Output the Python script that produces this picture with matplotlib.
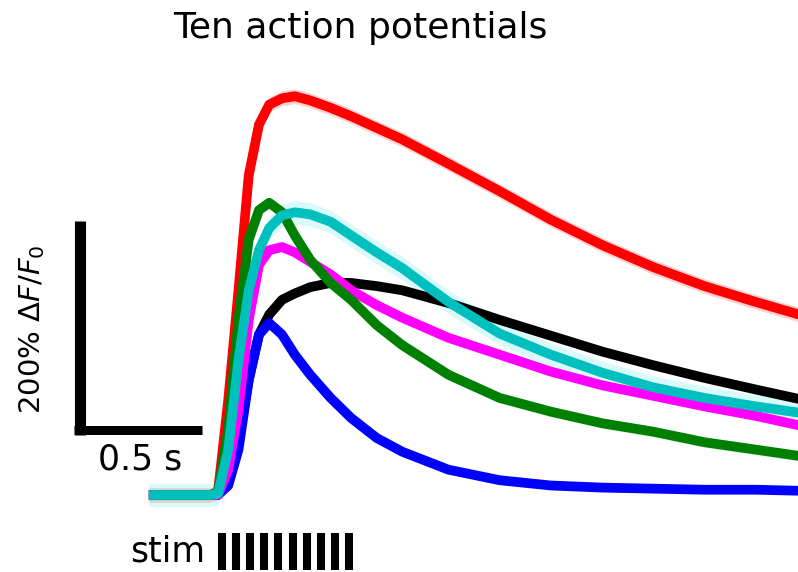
import matplotlib
matplotlib.use('Agg')
from matplotlib import pyplot as plt

# time (s) relative to stimulus onset, dF/F0 (%) for each indicator
t = [-0.27, -0.03, 0.0, 0.04, 0.08, 0.12, 0.16, 0.20, 0.25, 0.30, 0.36, 0.44,
     0.52, 0.62, 0.72, 0.90, 1.10, 1.30, 1.50, 1.70, 1.90, 2.10, 2.27]

red = [0, 0, 3, 90, 194, 303, 351, 370, 376, 378, 374, 367,
       359, 348, 337, 314, 288, 261, 237, 216, 198, 183, 171]
green = [0, 0, 2, 62, 166, 242, 270, 277, 268, 246, 223, 201,
         185, 161, 142, 114, 92, 79, 68, 60, 50, 43, 37]
cyan = [0, 0, 1, 43, 128, 194, 232, 253, 265, 268, 266, 259,
        246, 230, 215, 183, 153, 133, 116, 102, 92, 84, 78]
magenta = [0, 0, 0, 24, 81, 166, 218, 232, 235, 230, 221, 209,
           194, 180, 168, 149, 133, 117, 104, 94, 84, 75, 66]
black = [0, 0, 0, 14, 52, 109, 152, 171, 185, 191, 197, 201,
         201, 198, 194, 182, 166, 151, 136, 123, 111, 100, 91]
blue = [0, 0, 0, 9, 43, 109, 152, 163, 152, 133, 114, 92,
        73, 54, 41, 24, 14, 9, 7, 6, 5, 5, 4]

# approximate error band half-widths (%)
sem_red = 7
sem_green = 5
sem_cyan = 11

stim_times = [0.016, 0.071, 0.126, 0.181, 0.236, 0.291, 0.346, 0.401, 0.456, 0.511]

fig = plt.figure(figsize=(7.98, 5.72), dpi=100)
ax = fig.add_axes([0, 0, 1, 1])
ax.set_xlim(-0.8516, 2.2656)
ax.set_ylim(-73.0, 469.2)
ax.axis('off')

lw = 7
def band(y, s, c, a):
    lo = [v - s for v in y]
    hi = [v + s for v in y]
    ax.fill_between(t, lo, hi, color=c, alpha=a, lw=0)

band(red, sem_red, '#ff0000', 0.18)
band(green, sem_green, '#00c000', 0.12)
band(cyan, sem_cyan, '#00e0e0', 0.15)

traces = [(black, 'k'), (blue, '#0000ff'), (magenta, '#ff00ff'),
          (red, '#ff0000'), (green, '#008000'), (cyan, '#00bfbf')]
for y, c in traces:
    ax.plot(t, y, color=c, lw=lw, solid_joinstyle='round', solid_capstyle='butt')

# scale bars
ax.plot([-0.539, -0.539], [57.3, 259.3], color='k', lw=8, solid_capstyle='butt')
ax.plot([-0.5625, -0.0625], [61.6, 61.6], color='k', lw=6.5, solid_capstyle='butt')
ax.text(-0.305, 23.7, '0.5 s', ha='center', va='baseline', fontsize=25)
ax.text(-0.726, 157, r'200% $\Delta F/F_0$', rotation=90, ha='center', va='center', fontsize=21)

# stimulus marks
ax.vlines(stim_times, -71, -36, color='k', lw=5.8)
ax.text(-0.05, -63, 'stim', ha='right', va='baseline', fontsize=25)

ax.text(0.555, 433, 'Ten action potentials', ha='center', va='baseline', fontsize=26)

fig.savefig('out.png', dpi=100)
